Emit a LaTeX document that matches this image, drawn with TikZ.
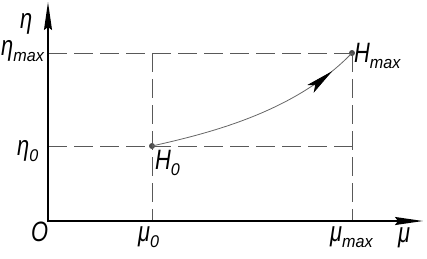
\documentclass[tikz,border=0pt]{standalone}
\usepackage{fontspec}
\setmainfont{Liberation Sans}[FakeStretch=0.78]
\newfontfamily\subf{Liberation Sans}[FakeStretch=0.95]
\usetikzlibrary{arrows.meta,decorations.markings}
\newcommand\mylab[2]{#1\raisebox{-6pt}{\subf\itshape\fontsize{17}{17}\selectfont #2}}
\begin{document}
\begin{tikzpicture}[x=1pt,y=-1pt,
  axisline/.style={line width=1.7pt, line join=miter},
  guide/.style={draw=black!65, line width=0.7pt, dash pattern=on 19pt off 7pt},
  curveline/.style={draw=black!60, line width=0.8pt},
  lbl/.style={anchor=base west, inner sep=0pt, font=\fontsize{28}{28}\selectfont\itshape},
  dot/.style={circle, fill=black!70, inner sep=0pt, minimum size=6pt}
]
\useasboundingbox (0,0) rectangle (427,258);
% key points
\coordinate (O) at (48,221);
\coordinate (ytip) at (48,2);
\coordinate (xtip) at (423,221);
\coordinate (ymax) at (48,53);
\coordinate (y0) at (48,146);
\coordinate (xmu0) at (152,221);
\coordinate (xmumax) at (352,221);
\node[dot] (H0) at (152,146) {};
\node[dot] (Hmax) at (352,53) {};
% guides
\draw[guide] (ymax) -- (Hmax.center);
\draw[guide] (y0) -- (352,146);
\draw[guide] (152,53) -- (xmu0);
\draw[guide] (Hmax.center) -- (xmumax);
% curve
\draw[curveline, decoration={markings, mark=at position 0.88 with {\arrow{Stealth[length=28pt,width=10pt,inset=6pt,color=black]}}}, postaction={decorate}]
  (H0.center) .. controls (210,133) and (295,112) .. (Hmax.center);
% axes
\draw[axisline, {Stealth[length=28pt,width=8pt,inset=3pt]}-{Stealth[length=28pt,width=8pt,inset=3pt]}] (ytip) -- (O) -- (xtip);
% labels
\node[lbl] (leta) at (20,28) {η};
\node[lbl] (letamax) at (1,55) {\mylab{η}{max}};
\node[lbl] (leta0) at (17,155) {\mylab{η}{0}};
\node[lbl] (lO) at (31,241) {O};
\node[lbl] (lmu0) at (138,241) {\mylab{μ}{0}};
\node[lbl] (lmumax) at (330,241) {\mylab{μ}{max}};
\node[lbl] (lmu) at (398,242) {μ};
\node[lbl] (lH0) at (155,169) {\mylab{H}{0}};
\node[lbl] (lHmax) at (354,62) {\mylab{H}{max}};
\end{tikzpicture}
\end{document}
